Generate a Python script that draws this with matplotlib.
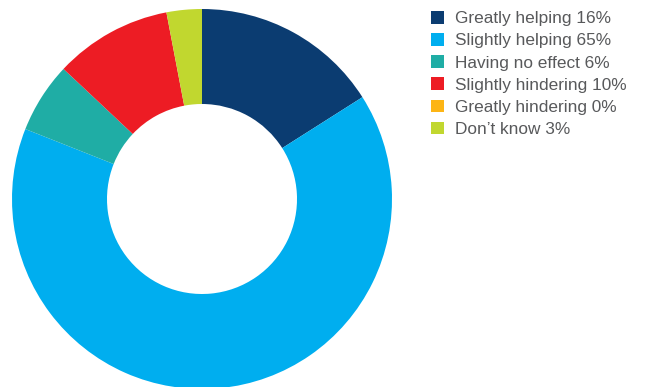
import matplotlib
matplotlib.use("Agg")
import matplotlib.pyplot as plt
from matplotlib.patches import Patch

categories = ["Greatly helping", "Slightly helping", "Having no effect",
              "Slightly hindering", "Greatly hindering", "Don\u2019t know"]
values = [16, 65, 6, 10, 0, 3]
colors = ["#0b3c71", "#00aeef", "#1fada5", "#ed1c24", "#fdb515", "#c1d72f"]

plt.rcParams["font.family"] = ["Liberation Sans", "DejaVu Sans"]

W, H = 654, 387
fig = plt.figure(figsize=(W / 100, H / 100), dpi=100)

cx, cy, r = 202, 199, 190
ax = fig.add_axes([(cx - r) / W, (H - cy - r) / H, 2 * r / W, 2 * r / H])
ax.pie(values, colors=colors, startangle=90, counterclock=False,
       radius=1.0, wedgeprops=dict(width=0.5, edgecolor="none"))
ax.set_xlim(-1, 1)
ax.set_ylim(-1, 1)
ax.set_aspect("equal")
ax.axis("off")

handles = [Patch(facecolor=c, edgecolor="none") for c in colors]
labels = [f"{c} {v}%" for c, v in zip(categories, values)]
leg = fig.legend(handles, labels, loc="upper left",
                 bbox_to_anchor=(431 / W, 1 - 11 / H),
                 frameon=False, fontsize=12.4, handlelength=0.74,
                 handleheight=0.74, handletextpad=0.65, labelspacing=0.4,
                 borderaxespad=0, borderpad=0)
for t in leg.get_texts():
    t.set_color("#58595b")

fig.savefig("out.png", dpi=100)
